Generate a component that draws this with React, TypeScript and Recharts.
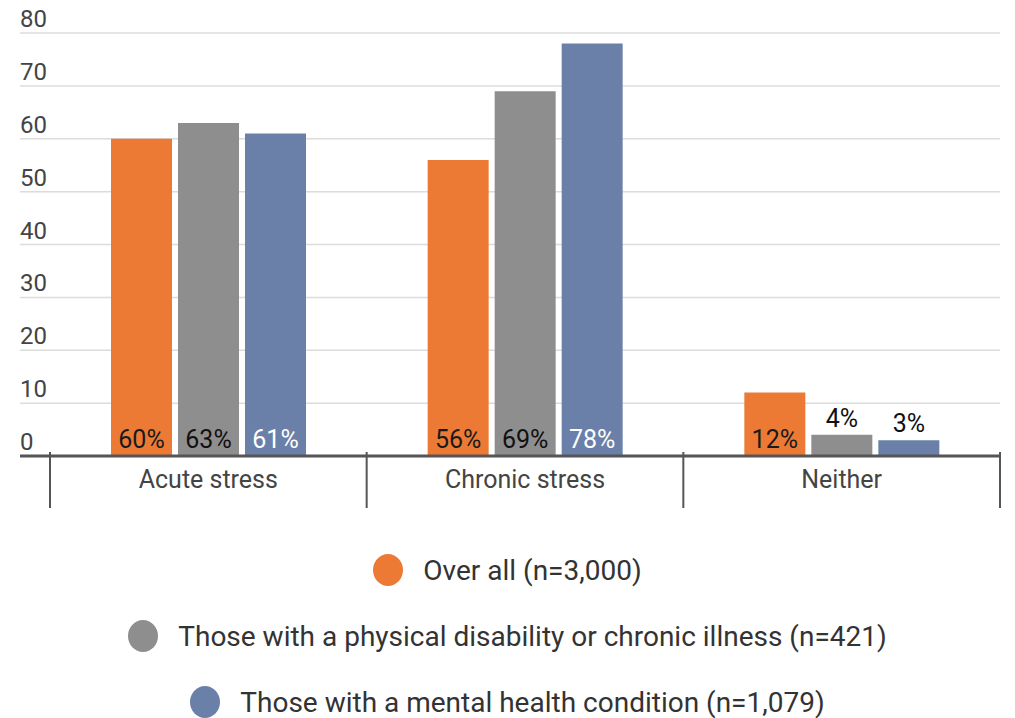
import { Bar, BarChart, CartesianGrid, LabelList, XAxis, YAxis } from "recharts";

const categories = ["Acute stress", "Chronic stress", "Neither"];
const overall = [60, 56, 12];
const physical = [63, 69, 4];
const mental = [61, 78, 3];
const yTicks = [0, 10, 20, 30, 40, 50, 60, 70, 80];

const series = [
  { key: "overall", name: "Over all (n=3,000)", color: "#EC7A35", label: "#1a1a1a" },
  { key: "physical", name: "Those with a physical disability or chronic illness (n=421)", color: "#8E8E8E", label: "#111" },
  { key: "mental", name: "Those with a mental health condition (n=1,079)", color: "#6A80A9", label: "#fff" },
];

const data = categories.map((c, i) => ({
  category: c,
  overall: overall[i],
  physical: physical[i],
  mental: mental[i],
}));

const W = 1015;
const H = 520;
const LEFT = 19;
const RIGHT = 15;
const PAD_LEFT = 30;
const BAND = (W - LEFT - 1 - RIGHT - PAD_LEFT) / categories.length;
const FONT = "Roboto, 'Noto Sans', sans-serif";

function YTick(props: any) {
  const { y, payload } = props;
  return (
    <text x={20} y={y - 6} fill="#444" fontSize={24} fontFamily={FONT} textAnchor="start">
      {payload.value}
    </text>
  );
}

function XTick(props: any) {
  const { x, y, payload, index } = props;
  const top = y - 2;
  return (
    <g>
      <line x1={x - BAND / 2} x2={x - BAND / 2} y1={top - 10} y2={top + 46} stroke="#555" strokeWidth={2} />
      {index === categories.length - 1 && (
        <line x1={x + BAND / 2} x2={x + BAND / 2} y1={top - 10} y2={top + 46} stroke="#555" strokeWidth={2} />
      )}
      <text x={x} y={top + 26} fill="#444" fontSize={25} fontFamily={FONT} textAnchor="middle">
        {payload.value}
      </text>
    </g>
  );
}

const makeLabel = (fill: string) => (props: any) => {
  const { x, y, width, height, value } = props;
  const inside = value >= 10;
  return (
    <text
      x={x + width / 2}
      y={inside ? y + height - 8 : y - 8}
      fill={inside ? fill : "#111"}
      fontSize={25}
      fontFamily={FONT}
      textAnchor="middle"
    >
      {value}%
    </text>
  );
};

export default function App() {
  return (
    <div style={{ position: "absolute", left: 0, top: 0, width: W, height: 718, background: "#fff", fontFamily: FONT }}>
      <BarChart
        width={W}
        height={H}
        data={data}
        margin={{ top: 33, right: RIGHT, left: LEFT, bottom: 0 }}
        barCategoryGap={61}
        barGap={6}
      >
        <CartesianGrid vertical={false} stroke="#dcdcdc" strokeWidth={1.5} />
        <XAxis
          dataKey="category"
          padding={{ left: PAD_LEFT, right: 0 }}
          axisLine={{ stroke: "#555", strokeWidth: 3 }}
          tickLine={false}
          tick={<XTick />}
          height={H - 33 - 423}
          interval={0}
        />
        <YAxis
          domain={[0, 80]}
          ticks={yTicks}
          width={1}
          axisLine={false}
          tickLine={false}
          tickSize={0}
          tickMargin={0}
          tick={<YTick />}
          interval={0}
        />
        {series.map((s) => (
          <Bar key={s.key} dataKey={s.key} name={s.name} fill={s.color} isAnimationActive={false}>
            <LabelList dataKey={s.key} content={makeLabel(s.label)} />
          </Bar>
        ))}
      </BarChart>
      {series.map((s, i) => (
        <div
          key={s.key}
          style={{
            position: "absolute",
            left: 0,
            width: W,
            top: 552 + i * 66,
            display: "flex",
            justifyContent: "center",
            alignItems: "center",
            height: 36,
          }}
        >
          <span
            style={{
              display: "inline-block",
              width: 30,
              height: 32,
              borderRadius: "50%",
              background: s.color,
              marginRight: 20,
            }}
          />
          <span style={{ fontSize: 28, color: "#333" }}>{s.name}</span>
        </div>
      ))}
    </div>
  );
}
